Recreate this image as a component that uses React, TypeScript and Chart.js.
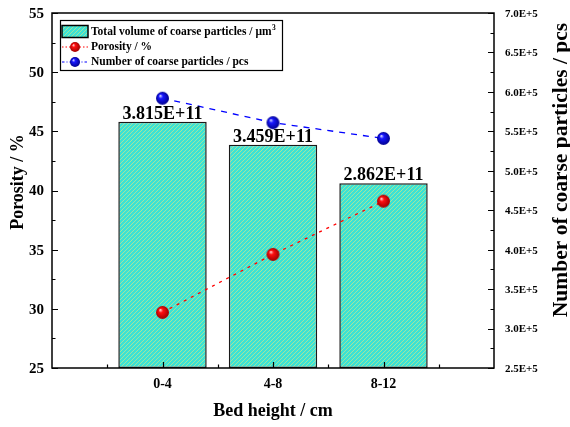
import React, { useEffect, useRef } from 'react';
import { Chart, registerables } from 'chart.js';

Chart.register(...registerables);

// Bed height classes, placed at positions 1..3 on a 0..4 linear axis
const categories = ['0-4', '4-8', '8-12'];
const categoryPositions = [1, 2, 3];

// Total volume of coarse particles (µm³) and the labels printed above each bar
const volumeValues = [3.815e11, 3.459e11, 2.862e11];
const volumeLabels = ['3.815E+11', '3.459E+11', '2.862E+11'];

// Porosity (%) on the left axis
const porosityValues = [29.7, 34.6, 39.1];

// Number of coarse particles (pcs) on the right axis
const particleCounts = [5.92e5, 5.61e5, 5.41e5];

// Axis tick values and labels
const porosityTicks = [25, 30, 35, 40, 45, 50, 55];
const countTicks = [2.5e5, 3.0e5, 3.5e5, 4.0e5, 4.5e5, 5.0e5, 5.5e5, 6.0e5, 6.5e5, 7.0e5];
const countTickLabels = ['2.5E+5', '3.0E+5', '3.5E+5', '4.0E+5', '4.5E+5', '5.0E+5', '5.5E+5', '6.0E+5', '6.5E+5', '7.0E+5'];

const SERIF = '"Liberation Serif", "Times New Roman", serif';

function makeSphere(light: string, base: string, dark: string, r: number): HTMLCanvasElement {
  const size = Math.ceil(r * 2) + 2;
  const c = document.createElement('canvas');
  c.width = size;
  c.height = size;
  const g = c.getContext('2d')!;
  const cx = size / 2;
  const cy = size / 2;
  const grad = g.createRadialGradient(cx - r * 0.35, cy - r * 0.4, r * 0.05, cx, cy, r);
  grad.addColorStop(0, light);
  grad.addColorStop(0.3, base);
  grad.addColorStop(1, dark);
  g.fillStyle = grad;
  g.beginPath();
  g.arc(cx, cy, r, 0, Math.PI * 2);
  g.fill();
  return c;
}

function makeHatch(ctx: CanvasRenderingContext2D): CanvasPattern {
  const p = document.createElement('canvas');
  p.width = 4;
  p.height = 4;
  const g = p.getContext('2d')!;
  g.fillStyle = '#3CE2D4';
  g.fillRect(0, 0, 4, 4);
  g.strokeStyle = '#9EE6A0';
  g.lineWidth = 1;
  g.beginPath();
  g.moveTo(0, 4); g.lineTo(4, 0);
  g.moveTo(-1, 1); g.lineTo(1, -1);
  g.moveTo(3, 5); g.lineTo(5, 3);
  g.stroke();
  return ctx.createPattern(p, 'repeat')!;
}

function makeFramePlugin(hatch: CanvasPattern, redSmall: HTMLCanvasElement, blueSmall: HTMLCanvasElement) {
  return {
    id: 'frame',
    afterDatasetsDraw(chart: any) {
      const { ctx } = chart;
      const meta = chart.getDatasetMeta(0);
      ctx.save();
      ctx.fillStyle = '#000';
      ctx.font = `bold 18px ${SERIF}`;
      ctx.textAlign = 'center';
      ctx.textBaseline = 'alphabetic';
      meta.data.forEach((bar: any, i: number) => {
        ctx.fillText(volumeLabels[i], bar.x, bar.y - 3);
      });
      ctx.restore();
    },
    afterDraw(chart: any) {
      const { ctx, chartArea: a, scales } = chart;
      const sx = scales.x;
      const sy = scales.y;
      const sc = scales.yCount;
      ctx.save();

      // plot frame
      ctx.strokeStyle = '#000';
      ctx.lineWidth = 1.5;
      ctx.strokeRect(a.left, a.top, a.right - a.left, a.bottom - a.top);

      ctx.lineWidth = 1.2;
      ctx.beginPath();
      // left axis ticks (major every 5, minor halfway)
      for (let v = 25; v <= 55; v += 2.5) {
        const y = Math.round(sy.getPixelForValue(v)) + 0.5;
        const len = v % 5 === 0 ? 6 : 3.5;
        ctx.moveTo(a.left, y);
        ctx.lineTo(a.left + len, y);
      }
      // right axis ticks (major every 0.5E+5, minor halfway)
      for (let k = 0; k <= 18; k++) {
        const v = 2.5e5 + k * 0.25e5;
        const y = Math.round(sc.getPixelForValue(v)) + 0.5;
        const len = k % 2 === 0 ? 6 : 3.5;
        ctx.moveTo(a.right, y);
        ctx.lineTo(a.right - len, y);
      }
      // bottom axis ticks
      for (let k = 1; k <= 7; k++) {
        const v = k * 0.5;
        const x = Math.round(sx.getPixelForValue(v)) + 0.5;
        const len = k % 2 === 0 ? 6 : 3.5;
        ctx.moveTo(x, a.bottom);
        ctx.lineTo(x, a.bottom - len);
      }
      ctx.stroke();

      ctx.fillStyle = '#000';
      // left tick labels
      ctx.font = `bold 15px ${SERIF}`;
      ctx.textAlign = 'right';
      ctx.textBaseline = 'middle';
      porosityTicks.forEach((v) => {
        ctx.fillText(String(v), a.left - 8, sy.getPixelForValue(v) + 1);
      });
      // right tick labels
      ctx.font = `bold 11px ${SERIF}`;
      ctx.textAlign = 'left';
      countTicks.forEach((v, i) => {
        ctx.fillText(countTickLabels[i], a.right + 11, sc.getPixelForValue(v) + 1);
      });
      // category labels
      ctx.font = `bold 14px ${SERIF}`;
      ctx.textAlign = 'center';
      categories.forEach((c, i) => {
        ctx.fillText(c, sx.getPixelForValue(categoryPositions[i]), a.bottom + 16);
      });

      // axis titles
      ctx.font = `bold 18px ${SERIF}`;
      ctx.fillText('Bed height / cm', (a.left + a.right) / 2, a.bottom + 43);
      ctx.save();
      ctx.translate(18, 182);
      ctx.rotate(-Math.PI / 2);
      ctx.fillText('Porosity / %', 0, 0);
      ctx.restore();
      ctx.save();
      ctx.translate(561, 170);
      ctx.rotate(-Math.PI / 2);
      ctx.font = `bold 21.5px ${SERIF}`;
      ctx.fillText('Number of coarse particles / pcs', 0, 0);
      ctx.restore();

      // legend
      ctx.lineWidth = 1.2;
      ctx.strokeRect(60.5, 20.5, 222, 50);
      ctx.fillStyle = hatch;
      ctx.fillRect(62, 25.5, 26, 12);
      ctx.lineWidth = 1.5;
      ctx.strokeRect(62, 25.5, 26, 12);

      ctx.lineWidth = 1;
      ctx.strokeStyle = '#FF0000';
      ctx.setLineDash([1.5, 2]);
      ctx.beginPath();
      ctx.moveTo(62, 47);
      ctx.lineTo(89, 47);
      ctx.stroke();
      ctx.strokeStyle = '#0000FF';
      ctx.setLineDash([2.5, 2, 1, 2]);
      ctx.beginPath();
      ctx.moveTo(62, 62);
      ctx.lineTo(89, 62);
      ctx.stroke();
      ctx.setLineDash([]);
      ctx.drawImage(redSmall, 75 - redSmall.width / 2, 47 - redSmall.height / 2);
      ctx.drawImage(blueSmall, 75 - blueSmall.width / 2, 62 - blueSmall.height / 2);

      ctx.fillStyle = '#000';
      ctx.font = `bold 11.5px ${SERIF}`;
      ctx.textAlign = 'left';
      ctx.textBaseline = 'middle';
      const t1 = 'Total volume of coarse particles / \u03bcm';
      ctx.fillText(t1, 91, 32.5);
      const w1 = ctx.measureText(t1).width;
      ctx.font = `bold 7.5px ${SERIF}`;
      ctx.fillText('3', 91 + w1 + 0.5, 28);
      ctx.font = `bold 11.5px ${SERIF}`;
      ctx.fillText('Porosity / %', 91, 47.5);
      ctx.fillText('Number of coarse particles / pcs', 91, 62.5);

      ctx.restore();
    },
  };
}

export default function App() {
  const canvasRef = useRef<HTMLCanvasElement | null>(null);

  useEffect(() => {
    const canvas = canvasRef.current;
    if (!canvas) return;
    const ctx = canvas.getContext('2d')!;
    const hatch = makeHatch(ctx);
    const redBall = makeSphere('#ffd0d0', '#ff1010', '#a00000', 6.5);
    const blueBall = makeSphere('#d0d0ff', '#1818ff', '#00008f', 6.5);
    const redSmall = makeSphere('#ffd0d0', '#ff1010', '#a00000', 5);
    const blueSmall = makeSphere('#d0d0ff', '#1818ff', '#00008f', 5);

    const chart = new Chart(canvas, {
      type: 'bar',
      data: {
        datasets: [
          {
            type: 'bar',
            label: 'Total volume of coarse particles',
            data: categoryPositions.map((x, i) => ({ x, y: volumeValues[i] })),
            xAxisID: 'x',
            yAxisID: 'yVol',
            backgroundColor: hatch as any,
            borderColor: '#1a1a1a',
            borderWidth: 1.5,
            borderSkipped: false,
            barPercentage: 0.8,
            categoryPercentage: 1,
            order: 3,
          },
          {
            type: 'line',
            label: 'Porosity',
            data: categoryPositions.map((x, i) => ({ x, y: porosityValues[i] })),
            xAxisID: 'x',
            yAxisID: 'y',
            borderColor: '#FF0000',
            borderWidth: 1.3,
            borderDash: [3, 5],
            pointStyle: redBall as any,
            pointRadius: 6.5,
            order: 2,
          },
          {
            type: 'line',
            label: 'Number of coarse particles',
            data: categoryPositions.map((x, i) => ({ x, y: particleCounts[i] })),
            xAxisID: 'x',
            yAxisID: 'yCount',
            borderColor: '#0000FF',
            borderWidth: 1.3,
            borderDash: [6, 6],
            pointStyle: blueBall as any,
            pointRadius: 6.5,
            order: 1,
          },
        ],
      },
      options: {
        responsive: false,
        animation: false,
        devicePixelRatio: 1,
        layout: { padding: { left: 52, right: 76, top: 13, bottom: 59 } },
        plugins: { legend: { display: false }, tooltip: { enabled: false } },
        scales: {
          x: { type: 'linear', min: 0, max: 4, offset: false, display: false, ticks: { stepSize: 1 } },
          y: { type: 'linear', position: 'left', min: 25, max: 55, display: false },
          yCount: { type: 'linear', position: 'right', min: 2.5e5, max: 7e5, display: false },
          yVol: { type: 'linear', position: 'right', min: 0, max: 5.5e11, display: false },
        },
      },
      plugins: [makeFramePlugin(hatch, redSmall, blueSmall)],
    });

    return () => chart.destroy();
  }, []);

  return (
    <div style={{ position: 'fixed', left: 0, top: 0, width: 570, height: 427, background: '#fff' }}>
      <canvas ref={canvasRef} width={570} height={427} style={{ display: 'block' }} />
    </div>
  );
}
